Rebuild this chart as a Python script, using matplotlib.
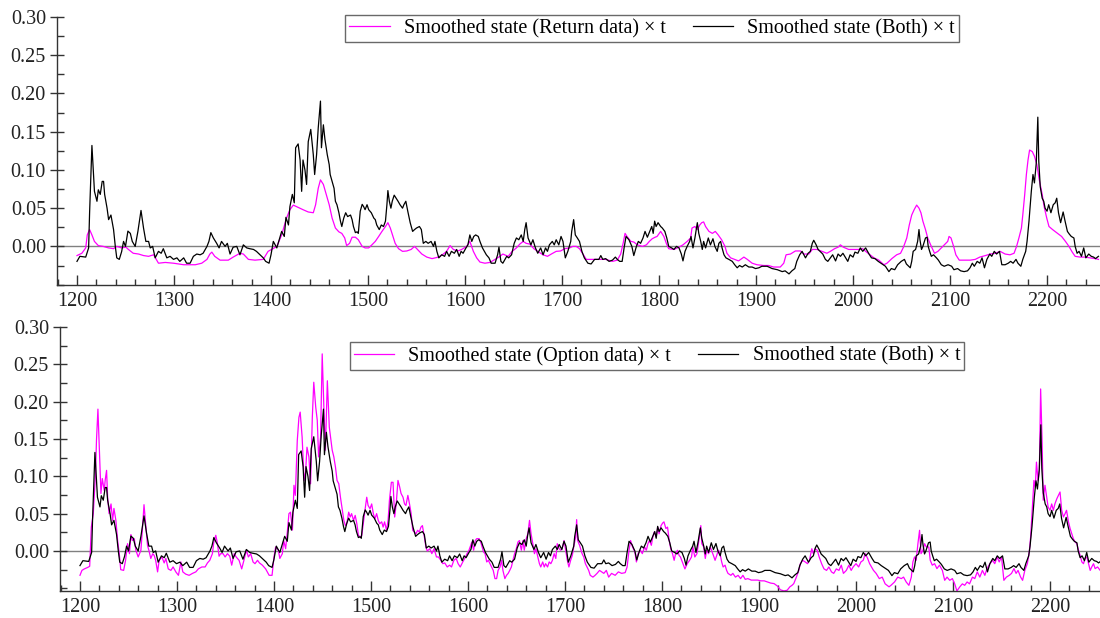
import numpy as np
import matplotlib
matplotlib.use("Agg")
import matplotlib.pyplot as plt
from matplotlib.ticker import MultipleLocator, FormatStrFormatter

plt.rcParams["font.family"] = ["Liberation Serif", "DejaVu Serif"]

# smoothed state, both data sets (same series in both panels)
both_pts = [
    (1200, -0.0196), (1203, -0.013), (1209, -0.014), (1212, -0.002), (1213, 0.044), (1215.4, 0.132),
    (1218, 0.072), (1220.6, 0.059), (1222, 0.074), (1224, 0.068), (1226, 0.085), (1227.4, 0.085),
    (1228.5, 0.068), (1231, 0.050), (1232.6, 0.035), (1235, 0.041), (1237.7, 0.022), (1239.5, 0.0),
    (1241, -0.015), (1243.6, -0.017), (1246, -0.007), (1248, 0.0065), (1250, 0.0), (1252.5, 0.020),
    (1255, 0.017), (1257, 0.0065), (1260, 0.0), (1262.8, 0.0196), (1266, 0.047), (1268.6, 0.024),
    (1271, 0.0065), (1273.8, 0.0065), (1275.5, -0.002), (1278, 0.0), (1280.6, -0.015), (1284, -0.0065),
    (1286.8, -0.009), (1289, -0.003), (1292.6, -0.015), (1296, -0.013), (1299.5, -0.017), (1303, -0.015),
    (1306, -0.0196), (1310, -0.015), (1313, -0.022), (1316.6, -0.022), (1320, -0.013), (1323.5, -0.010),
    (1327, -0.011), (1330, -0.009), (1334, 0.0), (1336, 0.0065), (1338, 0.018), (1340.6, 0.011),
    (1344, 0.004), (1346.5, -0.002), (1349, 0.0065), (1352.7, 0.0), (1355, 0.004), (1357.8, -0.010),
    (1361, -0.001), (1364.7, 0.0), (1368, -0.011), (1371.5, 0.002), (1375, -0.002), (1378, -0.003),
    (1382, -0.004), (1385, -0.0065), (1388.7, -0.011), (1392, -0.015), (1394.5, -0.0196), (1398, -0.022),
    (1400, -0.011), (1402.4, 0.0065), (1406, -0.002), (1408, 0.0065), (1411, 0.0196), (1413.7, 0.013),
    (1415.4, 0.038), (1418, 0.028), (1419.5, 0.052), (1422, 0.068), (1424, 0.057), (1425.4, 0.129),
    (1428, 0.134), (1430, 0.113), (1431.6, 0.072), (1433, 0.113), (1435, 0.100), (1436.7, 0.081),
    (1438.4, 0.137), (1441, 0.153), (1443.6, 0.120), (1445, 0.094), (1447, 0.120), (1448.7, 0.155),
    (1451, 0.190), (1452, 0.129), (1454, 0.159), (1455.6, 0.140), (1458, 0.120), (1460, 0.107),
    (1461, 0.094), (1463, 0.085), (1465, 0.076), (1466.4, 0.059), (1468, 0.0545), (1470, 0.044),
    (1471.6, 0.033), (1473, 0.026), (1475, 0.037), (1477, 0.044), (1479, 0.039), (1482, 0.041),
    (1483.6, 0.035), (1485, 0.026), (1487, 0.018), (1488.7, 0.019), (1490, 0.017), (1492, 0.046),
    (1494, 0.055), (1495.5, 0.052), (1497, 0.048), (1499, 0.0545), (1500.7, 0.048), (1503.4, 0.044),
    (1506, 0.037), (1507.5, 0.035), (1509, 0.028), (1511.6, 0.022), (1513.7, 0.028), (1516, 0.026),
    (1518, 0.033), (1519.5, 0.0545), (1520.5, 0.073), (1522, 0.059), (1523.6, 0.050), (1525, 0.059),
    (1527, 0.067), (1529, 0.063), (1531, 0.059), (1533, 0.0545), (1535.6, 0.050), (1537, 0.0545),
    (1539, 0.059), (1541, 0.046), (1543.5, 0.031), (1546, 0.0196), (1548, 0.022), (1550, 0.024),
    (1553, 0.026), (1555, 0.022), (1557, 0.004), (1559.6, 0.0065), (1562, 0.004), (1565, 0.0065),
    (1567.5, 0.0), (1569, 0.0065), (1571, -0.0065), (1573, -0.015), (1576, -0.011), (1579, -0.013),
    (1581, -0.0065), (1583.6, -0.013), (1586, -0.0065), (1589, -0.009), (1591.4, -0.004), (1594, -0.013),
    (1596, -0.0065), (1598, -0.009), (1601, -0.002), (1603, 0.002), (1605, 0.015), (1607, 0.0065),
    (1609, 0.013), (1611, 0.015), (1613.7, 0.013), (1615.4, 0.0065), (1618, -0.002), (1620, -0.0065),
    (1622, -0.011), (1624.7, -0.015), (1627, -0.022), (1631, -0.022), (1633.6, -0.011), (1635, -0.001),
    (1637, -0.0196), (1639, -0.022), (1643, -0.013), (1645, -0.015), (1648, -0.011), (1650.7, 0.004),
    (1653, 0.011), (1655.5, 0.0087), (1658, 0.015), (1660, 0.0065), (1661.6, 0.022), (1663, 0.031),
    (1665, 0.011), (1668, 0.002), (1670, 0.0087), (1672.6, -0.002), (1675, -0.009), (1678, -0.002),
    (1680.5, -0.011), (1683, -0.002), (1685, -0.0065), (1687, 0.002), (1690, 0.0065), (1692, 0.002),
    (1694, 0.0087), (1696.7, 0.002), (1699, 0.013), (1701, 0.0065), (1703.4, -0.015), (1706, -0.0065),
    (1709, 0.0065), (1710, 0.0196), (1712, 0.035), (1713.7, 0.015), (1715.8, 0.011), (1718, 0.0065),
    (1720.5, -0.0065), (1723, -0.015), (1726.7, -0.022), (1730, -0.023), (1733.6, -0.017), (1738, -0.017),
    (1740, -0.012), (1742, -0.017), (1745, -0.016), (1748.5, -0.0196), (1752, -0.018), (1755, -0.014),
    (1757, -0.017), (1759.5, -0.0196), (1762, -0.0196), (1764, -0.002), (1766, 0.013), (1769, 0.0087),
    (1772, 0.0), (1774, -0.012), (1776.7, 0.0), (1778.7, 0.0065), (1781, 0.004), (1783.5, 0.011),
    (1785.6, 0.0196), (1788, 0.012), (1790.4, 0.0196), (1792.5, 0.026), (1794, 0.017), (1795.5, 0.033),
    (1797, 0.026), (1799, 0.031), (1801.7, 0.026), (1803.4, 0.024), (1806, 0.0196), (1808, 0.011),
    (1810, 0.0), (1813, -0.002), (1815.4, -0.004), (1818, 0.0), (1820.6, -0.002), (1823, -0.010),
    (1824.7, -0.019), (1826.8, -0.0065), (1829, 0.0), (1831.6, 0.0065), (1833, 0.013), (1835, -0.002),
    (1837, 0.011), (1839.5, 0.031), (1841, 0.017), (1843, 0.0065), (1844.6, -0.004), (1846, 0.0065),
    (1848, -0.002), (1850.8, 0.011), (1853, 0.002), (1855.6, 0.010), (1857.6, 0.0), (1860, -0.0065),
    (1861.7, 0.004), (1863.5, 0.0065), (1865, -0.002), (1867, -0.011), (1869, -0.015), (1872, -0.017),
    (1875.5, -0.0196), (1878, -0.024), (1880.6, -0.028), (1883, -0.025), (1885.8, -0.027), (1889, -0.024),
    (1892.6, -0.027), (1896, -0.027), (1899.5, -0.029), (1903, -0.028), (1906, -0.026), (1911.5, -0.026),
    (1916.6, -0.029), (1922, -0.0305), (1927, -0.033), (1930, -0.032), (1934, -0.036), (1937, -0.032),
    (1940, -0.029), (1942, -0.0196), (1945, -0.011), (1947.5, -0.0065), (1951, -0.015), (1953.7, -0.009),
    (1956, -0.0065), (1958, 0.004), (1959.5, 0.008), (1962, 0.002), (1964, -0.004), (1966, -0.0065),
    (1968.8, -0.010), (1971.5, -0.017), (1974, -0.0196), (1976.6, -0.015), (1979, -0.011), (1982, -0.019),
    (1984.6, -0.010), (1987, -0.013), (1989.6, -0.009), (1992.4, -0.015), (1994.6, -0.0196), (1997, -0.011),
    (2000, -0.014), (2002, -0.0075), (2005, -0.009), (2007.5, -0.002), (2010, -0.0065), (2013, -0.002),
    (2016.5, -0.010), (2019, -0.015), (2022.6, -0.016), (2026, -0.0196), (2030, -0.023), (2033.4, -0.026),
    (2037, -0.033), (2039.5, -0.029), (2043, -0.0305), (2046, -0.024), (2049.7, -0.0196), (2053, -0.017),
    (2055, -0.023), (2059, -0.028), (2060.5, -0.0196), (2062, -0.0065), (2064.5, -0.004), (2066.6, 0.0065),
    (2068, 0.022), (2069, 0.0087), (2070.6, -0.004), (2072, 0.0), (2074.7, 0.011), (2076.4, 0.012),
    (2077.5, 0.0), (2079, -0.0065), (2080.7, -0.013), (2083, -0.011), (2086, -0.015), (2088, -0.018),
    (2091, -0.024), (2094, -0.026), (2098, -0.024), (2101.7, -0.026), (2104, -0.0305), (2107.8, -0.029),
    (2111, -0.032), (2114.5, -0.033), (2118, -0.032), (2120.6, -0.028), (2123, -0.022), (2125, -0.026),
    (2128, -0.0196), (2130.7, -0.022), (2133, -0.015), (2135.5, -0.028), (2138, -0.017), (2141, -0.010),
    (2143, -0.013), (2145.6, -0.0065), (2148, -0.010), (2151, -0.0065), (2153.4, -0.024), (2156.8, -0.024),
    (2160, -0.022), (2162.5, -0.0196), (2165, -0.022), (2168, -0.017), (2170, -0.022), (2173, -0.026),
    (2175, -0.017), (2178, -0.0065), (2179.4, 0.0065), (2181.4, 0.033), (2183.8, 0.072), (2185.5, 0.094),
    (2187, 0.083), (2188.9, 0.109), (2190.5, 0.169), (2191.5, 0.111), (2193, 0.078), (2195, 0.063),
    (2196.6, 0.059), (2198, 0.050), (2200, 0.046), (2201.7, 0.0545), (2204, 0.044), (2206.4, 0.0545),
    (2208.4, 0.057), (2210, 0.063), (2211.8, 0.044), (2214, 0.031), (2216.6, 0.045), (2218.6, 0.033),
    (2221, 0.0196), (2223, 0.016), (2225, 0.013), (2227.7, 0.011), (2229, 0.0), (2231, -0.009),
    (2233, -0.0065), (2235.5, -0.013), (2237.8, -0.002), (2240, -0.015), (2243, -0.010), (2245.6, -0.013),
    (2248, -0.014), (2250, -0.016), (2253, -0.013),
]

# smoothed state, return data only
ret_pts = [
    (1200, -0.012), (1205, -0.009), (1209, -0.002), (1210.6, 0.015), (1213, 0.022), (1215.4, 0.015),
    (1218, 0.0065), (1222, 0.001), (1227, 0.0), (1232.6, -0.002), (1237.7, -0.003), (1241, 0.0),
    (1246, -0.002), (1250.4, -0.001), (1253, -0.004), (1258, -0.009), (1263.5, -0.010), (1268.6, -0.012),
    (1273.8, -0.013), (1279, -0.011), (1284, -0.022), (1291, -0.021), (1299.5, -0.022), (1310, -0.024),
    (1322, -0.024), (1328.6, -0.022), (1334, -0.017), (1337, -0.010), (1339, -0.0075), (1342, -0.013),
    (1347.5, -0.018), (1356, -0.018), (1361, -0.014), (1368, -0.009), (1371.5, -0.010), (1376.7, -0.017),
    (1383.5, -0.018), (1392, -0.017), (1397, -0.0065), (1402, -0.003), (1406, 0.0), (1411, 0.015),
    (1416, 0.037), (1419.5, 0.048), (1423, 0.054), (1428, 0.051), (1433, 0.048), (1438.4, 0.045),
    (1443.6, 0.044), (1446, 0.0545), (1448.7, 0.076), (1451, 0.087), (1454, 0.081), (1457, 0.068),
    (1460, 0.0545), (1463, 0.037), (1466.4, 0.024), (1470, 0.019), (1473, 0.017), (1476, 0.011),
    (1478, 0.001), (1481, 0.004), (1483.6, 0.012), (1487, 0.012), (1490, 0.0087), (1494, 0.0),
    (1497, -0.002), (1500.7, -0.002), (1504, 0.002), (1507.5, 0.0065), (1511, 0.013), (1514.4, 0.0196),
    (1518, 0.026), (1520.5, 0.031), (1523, 0.024), (1525.7, 0.013), (1528, 0.004), (1531.5, -0.003),
    (1535.6, -0.0065), (1540, -0.006), (1544.5, -0.004), (1548, 0.0), (1551, -0.004), (1555.5, -0.010),
    (1560.6, -0.014), (1566, -0.016), (1572.6, -0.014), (1577.7, -0.010), (1581, -0.0065), (1584.6, 0.001),
    (1588, -0.004), (1592.5, -0.006), (1596.6, -0.004), (1601.7, 0.0), (1605, 0.0065), (1608.6, -0.0065),
    (1612, -0.015), (1615.4, -0.0205), (1620.5, -0.022), (1625.7, -0.021), (1631, -0.017), (1636, -0.013),
    (1639, -0.010), (1644.5, -0.013), (1648.6, -0.0065), (1653, -0.002), (1656.5, 0.003), (1660, 0.0065),
    (1663, 0.004), (1666.8, 0.003), (1671, -0.003), (1675, -0.0065), (1680.5, -0.011), (1685, -0.013),
    (1689, -0.010), (1694, -0.0065), (1698.6, -0.006), (1702.7, -0.003), (1707.8, -0.002), (1711, 0.0),
    (1714.7, 0.0), (1718, -0.003), (1721.6, -0.010), (1725, -0.017), (1730, -0.017), (1735, -0.017),
    (1745, -0.017), (1752, -0.0196), (1757, -0.018), (1760.5, -0.010), (1763, 0.004), (1765, 0.017),
    (1767, 0.013), (1771, 0.0065), (1774, 0.0057), (1777.7, 0.002), (1783, 0.0), (1787, 0.002),
    (1790, 0.0065), (1793, 0.010), (1796, 0.012), (1798, 0.013), (1801.7, 0.0196), (1805, 0.013),
    (1807.5, 0.004), (1810, -0.003), (1815.4, -0.004), (1820.6, -0.001), (1824.7, 0.002), (1829, 0.0065),
    (1832.6, 0.011), (1834, 0.024), (1837, 0.026), (1839.5, 0.022), (1842, 0.028), (1844, 0.031),
    (1846, 0.032), (1848, 0.026), (1851.5, 0.0196), (1855, 0.017), (1858, 0.0196), (1861, 0.015),
    (1864.5, 0.0087), (1868, 0.0), (1870, -0.009), (1873.8, -0.015), (1878, -0.017), (1882, -0.019),
    (1887.5, -0.014), (1891, -0.017), (1896, -0.022), (1901, -0.024), (1908, -0.025), (1913, -0.025),
    (1918, -0.027), (1925, -0.027), (1928.6, -0.022), (1931, -0.011), (1935.5, -0.010), (1940.6, -0.006),
    (1945.8, -0.006), (1949, -0.010), (1954.4, -0.010), (1958, -0.004), (1963, -0.004), (1968, -0.0065),
    (1973, -0.009), (1976.6, -0.0065), (1981, -0.003), (1984.6, -0.001), (1987, 0.002), (1990, -0.001),
    (1995.5, -0.004), (2000.7, -0.004), (2006, -0.004), (2010, -0.003), (2013, -0.0065), (2016.6, -0.010),
    (2021.6, -0.015), (2026.6, -0.018), (2031.8, -0.024), (2035, -0.022), (2040, -0.016), (2045, -0.011),
    (2049, -0.009), (2052, -0.001), (2055.4, 0.011), (2058, 0.028), (2060.5, 0.041), (2063, 0.048),
    (2065.6, 0.054), (2068, 0.050), (2070, 0.044), (2072, 0.033), (2074.7, 0.022), (2077, 0.011),
    (2080.7, 0.0), (2084, -0.009), (2087.5, -0.0065), (2091, -0.002), (2094, 0.002), (2097.6, 0.0065),
    (2099, 0.013), (2101, 0.011), (2103.7, 0.0), (2106, -0.011), (2109.5, -0.018), (2114.5, -0.018),
    (2121, -0.018), (2126, -0.017), (2130.7, -0.014), (2136.5, -0.012), (2141.5, -0.010), (2146.6, -0.009),
    (2151.7, -0.0065), (2156.8, -0.010), (2161.8, -0.011), (2166, -0.009), (2168.6, 0.0), (2171, 0.011),
    (2173.6, 0.024), (2175, 0.041), (2177, 0.068), (2178.7, 0.094), (2180.4, 0.113), (2182, 0.126),
    (2184.8, 0.124), (2187, 0.118), (2189.5, 0.107), (2192, 0.087), (2195, 0.068), (2197, 0.052),
    (2199.7, 0.037), (2202, 0.026), (2205.7, 0.022), (2210.8, 0.017), (2215, 0.013), (2219, 0.0065),
    (2222.6, 0.0), (2226, -0.0075), (2229, -0.013), (2234, -0.014), (2239, -0.014), (2244, -0.015),
    (2249.6, -0.016), (2253, -0.017),
]

# smoothed state, option data only
opt_pts = [
    (1200, -0.0326), (1202, -0.026), (1204.5, -0.024), (1208, -0.022), (1210, -0.0205), (1211.7, 0.032),
    (1213.7, 0.050), (1216, 0.103), (1217, 0.148), (1218.5, 0.190), (1220, 0.135), (1221.6, 0.077),
    (1223, 0.097), (1225, 0.081), (1226, 0.095), (1227.4, 0.108), (1228.5, 0.072), (1230, 0.050),
    (1232, 0.063), (1233.6, 0.041), (1235, 0.057), (1237, 0.041), (1238.8, 0.014), (1240.5, -0.0036),
    (1242, -0.025), (1245, -0.026), (1247, -0.0125), (1249, 0.0098), (1251, -0.0036), (1252.5, 0.022),
    (1254, 0.014), (1256, 0.0165), (1257.6, 0.001), (1260, -0.008), (1262.8, 0.001), (1264.5, 0.032),
    (1266, 0.062), (1268, 0.032), (1269.6, 0.0076), (1271, 0.001), (1273, -0.010), (1275, -0.0036),
    (1276.5, -0.006), (1278, -0.0125), (1280, -0.028), (1281.6, -0.0125), (1284.4, -0.008), (1286.8, -0.016),
    (1288.5, -0.010), (1291, -0.024), (1293.7, -0.026), (1296, -0.0214), (1298.8, -0.028), (1301.5, -0.0326),
    (1304, -0.0147), (1306, -0.028), (1309, -0.031), (1312.5, -0.0326), (1316, -0.030), (1319.4, -0.028),
    (1322, -0.024), (1325.6, -0.0214), (1329, -0.0214), (1331.4, -0.016), (1333.8, -0.0125), (1336.5, -0.0036),
    (1338, 0.012), (1340, 0.021), (1341.7, 0.0098), (1343.4, -0.007), (1345, -0.0036), (1347.5, -0.0036),
    (1349.6, -0.008), (1352, -0.0036), (1354.4, -0.007), (1356.4, -0.019), (1359, -0.0036), (1361, -0.008),
    (1364, -0.0125), (1366.7, -0.024), (1369, -0.0125), (1371.5, 0.001), (1373.6, -0.008), (1376, -0.0036),
    (1378.4, -0.0147), (1380.4, -0.017), (1383, -0.0125), (1385, -0.016), (1388, -0.019), (1391.4, -0.024),
    (1395, -0.0326), (1398, -0.0326), (1400, -0.008), (1401.7, 0.0054), (1404.5, 0.001), (1406, -0.010),
    (1408.6, -0.0036), (1410, 0.014), (1412, 0.003), (1413.7, 0.025), (1415.4, 0.050), (1417, 0.052),
    (1419, 0.028), (1420.6, 0.088), (1422, 0.0745), (1424, 0.148), (1425.7, 0.179), (1427, 0.186),
    (1429, 0.1525), (1431, 0.0945), (1432.6, 0.106), (1434, 0.139), (1436, 0.126), (1437.7, 0.090),
    (1439.5, 0.179), (1441, 0.226), (1443, 0.193), (1444.6, 0.175), (1446, 0.126), (1448, 0.1525),
    (1449.7, 0.264), (1451.5, 0.188), (1453, 0.135), (1455, 0.228), (1457, 0.166), (1460, 0.135),
    (1461.7, 0.126), (1463.4, 0.112), (1465, 0.0945), (1466.8, 0.090), (1468.5, 0.072), (1470, 0.059),
    (1472, 0.041), (1473.6, 0.034), (1475, 0.0366), (1477, 0.052), (1478.6, 0.0455), (1480, 0.050),
    (1482, 0.041), (1483.7, 0.0477), (1485.4, 0.0366), (1487, 0.021), (1488.8, 0.0187), (1490.5, 0.021),
    (1492, 0.0366), (1494, 0.0566), (1495.6, 0.072), (1497, 0.061), (1499, 0.0566), (1500.7, 0.063),
    (1502.4, 0.050), (1504, 0.043), (1505.8, 0.050), (1507.5, 0.041), (1509, 0.0366), (1511, 0.039),
    (1512.5, 0.032), (1514, 0.039), (1516, 0.0277), (1517.6, 0.041), (1519, 0.068), (1521, 0.092),
    (1522.7, 0.092), (1524.4, 0.0455), (1526, 0.063), (1527.8, 0.0945), (1529.5, 0.086), (1531, 0.077),
    (1533, 0.072), (1534.6, 0.063), (1536, 0.061), (1538, 0.0745), (1539.7, 0.063), (1541.4, 0.050),
    (1543, 0.0277), (1544.7, 0.0254), (1546.4, 0.023), (1548, 0.0277), (1549.8, 0.0254), (1551.5, 0.032),
    (1553, 0.034), (1555, 0.0187), (1556.6, 0.0054), (1558, 0.0), (1560.7, 0.003), (1562.7, -0.0036),
    (1565, 0.003), (1567.5, -0.008), (1569.5, -0.008), (1572, -0.0125), (1574, -0.017), (1576, -0.016),
    (1578.6, -0.0214), (1581, -0.019), (1583, -0.0214), (1585.4, -0.0125), (1587.8, -0.010), (1589.8, -0.017),
    (1592, -0.0214), (1594.6, -0.0147), (1596.6, -0.010), (1599, -0.0036), (1601, 0.001), (1604, 0.012),
    (1605.8, 0.001), (1607.5, 0.014), (1609, 0.0165), (1611.5, 0.0165), (1613.6, 0.0098), (1616, -0.0013),
    (1617.6, -0.0036), (1619.3, -0.0147), (1621, -0.0125), (1622.7, -0.017), (1624.4, -0.0214), (1626, -0.026),
    (1627.8, -0.037), (1629.5, -0.037), (1631, -0.026), (1633, -0.0214), (1634.6, -0.0125), (1636, -0.026),
    (1638, -0.037), (1639.7, -0.0326), (1641.4, -0.030), (1643, -0.026), (1644.7, -0.0214), (1646.4, -0.0125),
    (1648, -0.0036), (1649.8, 0.003), (1651.5, 0.012), (1653, 0.014), (1655, 0.001), (1656.6, 0.014),
    (1658, 0.001), (1660, 0.0165), (1661.7, 0.023), (1663.4, 0.041), (1665, 0.023), (1666.8, 0.0098),
    (1668.5, -0.0036), (1670, 0.003), (1672, -0.008), (1673.6, -0.017), (1675, -0.0214), (1677, -0.0147),
    (1678.6, -0.0214), (1680, -0.017), (1682, -0.0214), (1683.7, -0.0147), (1685.4, -0.017), (1687, -0.0125),
    (1688.8, -0.0036), (1690.5, -0.010), (1692, 0.0098), (1694, 0.003), (1695.6, 0.001), (1697, 0.003),
    (1699, 0.014), (1700.7, 0.001), (1702.4, -0.0125), (1704, -0.0214), (1705.8, -0.0125), (1707.5, -0.006),
    (1709, 0.0054), (1711, 0.0187), (1712, 0.042), (1713, 0.014), (1715, 0.0076), (1717.6, -0.0036),
    (1719.3, -0.008), (1721, -0.017), (1722.7, -0.0214), (1724.4, -0.026), (1726, -0.0326), (1728.8, -0.035),
    (1731, -0.0326), (1733, -0.030), (1735.6, -0.026), (1740, -0.030), (1742.6, -0.026), (1745, -0.035),
    (1748, -0.030), (1751.7, -0.0326), (1755, -0.028), (1758.4, -0.030), (1762, -0.029), (1764, -0.0214),
    (1766, 0.001), (1767.6, 0.014), (1769.6, 0.0054), (1772, -0.0013), (1773.6, -0.0147), (1775.3, -0.0036),
    (1777.7, 0.001), (1779.7, -0.0036), (1782, 0.0054), (1783.8, 0.001), (1785.5, 0.0098), (1787, 0.014),
    (1789, 0.0076), (1790.5, 0.0187), (1792, 0.0254), (1794, 0.0187), (1795.6, 0.032), (1797, 0.023),
    (1799, 0.034), (1800.7, 0.0375), (1802, 0.039), (1804, 0.030), (1805.7, 0.032), (1807.4, 0.014),
    (1809, 0.003), (1810.8, -0.0036), (1812.5, -0.0125), (1814, -0.0036), (1816, 0.001), (1817.6, -0.006),
    (1819, -0.008), (1821.6, -0.017), (1823.6, -0.024), (1826, -0.017), (1828.4, -0.0125), (1830.4, -0.008),
    (1831.8, 0.0054), (1833.8, -0.008), (1836, -0.0036), (1838.5, 0.0187), (1840, 0.034), (1841, 0.0098),
    (1843, 0.0054), (1844.6, -0.010), (1846, 0.001), (1848, -0.0036), (1849.7, 0.0054), (1851, 0.001),
    (1853, -0.006), (1854.7, -0.0125), (1856.4, -0.006), (1858, 0.001), (1859.8, -0.0036), (1861.5, -0.0147),
    (1863, -0.0214), (1865, -0.019), (1866.6, -0.026), (1868, -0.030), (1871, -0.0326), (1873, -0.030),
    (1875.7, -0.035), (1878.4, -0.0326), (1881, -0.037), (1883.4, -0.0326), (1885.8, -0.038), (1888.5, -0.037),
    (1892, -0.039), (1895, -0.039), (1898.6, -0.039), (1902, -0.040), (1905.4, -0.040), (1908.8, -0.0415),
    (1912, -0.043), (1915.5, -0.0437), (1919, -0.047), (1922, -0.052), (1925.7, -0.0535), (1929, -0.0526),
    (1931.8, -0.048), (1934, -0.046), (1935.8, -0.0437), (1938.5, -0.035), (1941, -0.026), (1942.6, -0.017),
    (1945, -0.0125), (1947.6, -0.0147), (1950, -0.017), (1952, -0.0125), (1954.4, 0.003), (1956, -0.0036),
    (1957.8, 0.003), (1960, 0.001), (1962, -0.008), (1964.5, -0.017), (1967, -0.024), (1969.6, -0.026),
    (1972, -0.0214), (1974.7, -0.028), (1977, -0.030), (1979.7, -0.024), (1982.4, -0.026), (1984.8, -0.019),
    (1987, -0.030), (1990, -0.026), (1992.6, -0.019), (1995, -0.026), (1997, -0.0214), (2000, -0.017),
    (2002.7, -0.0214), (2005, -0.0147), (2007.4, -0.0125), (2009.5, -0.0036), (2012, -0.010), (2014, -0.017),
    (2018, -0.026), (2020.7, -0.030), (2024, -0.037), (2027, -0.035), (2030, -0.044), (2034, -0.048),
    (2036, -0.046), (2039.7, -0.0415), (2043, -0.035), (2046.6, -0.037), (2049, -0.035), (2051.7, -0.0415),
    (2054.5, -0.046), (2057, -0.035), (2058.6, -0.0147), (2060.3, -0.008), (2062, -0.0125), (2063.8, 0.0098),
    (2065.5, 0.0277), (2067, -0.0036), (2069, 0.001), (2070.7, 0.0098), (2072.4, 0.0054), (2075, 0.0054),
    (2076.5, -0.0125), (2078.6, -0.019), (2081, -0.017), (2083.4, -0.0236), (2086, -0.019), (2089, -0.026),
    (2091.4, -0.0393), (2093.8, -0.035), (2096.6, -0.0393), (2099.3, -0.037), (2101.7, -0.044), (2104, -0.0535),
    (2107, -0.048), (2109.6, -0.044), (2112, -0.046), (2114.5, -0.0415), (2117, -0.044), (2120, -0.035),
    (2122.4, -0.037), (2125, -0.028), (2127.6, -0.035), (2130.3, -0.026), (2132.8, -0.0326), (2135, -0.0236),
    (2138, -0.017), (2140.7, -0.0125), (2143, -0.017), (2145.5, -0.008), (2147.6, -0.0147), (2150, -0.008),
    (2152.4, -0.0393), (2155, -0.035), (2158, -0.0326), (2160.3, -0.030), (2162.8, -0.0236), (2165, -0.030),
    (2167, -0.026), (2169.7, -0.035), (2171.7, -0.0393), (2174, -0.026), (2176.6, -0.017), (2178.6, -0.0013),
    (2180, 0.0187), (2182, 0.063), (2183.4, 0.0945), (2184.8, 0.0856), (2186, 0.119), (2187.6, 0.0945),
    (2189, 0.108), (2190.3, 0.217), (2191.7, 0.1525), (2193, 0.068), (2194.8, 0.088), (2196.6, 0.072),
    (2198, 0.059), (2200, 0.0545), (2201.7, 0.063), (2203.4, 0.0545), (2205, 0.063), (2207, 0.070),
    (2208.6, 0.0745), (2210.3, 0.079), (2212, 0.0545), (2213.8, 0.0455), (2215.5, 0.050), (2217, 0.0545),
    (2219, 0.039), (2220.7, 0.030), (2222.4, 0.023), (2224, 0.0165), (2225.9, 0.012), (2227.6, 0.0098),
    (2229.3, 0.001), (2231, -0.0058), (2232.8, -0.0147), (2234.5, -0.017), (2236, -0.010), (2238, -0.008),
    (2239.7, -0.017), (2241.4, -0.026), (2243, -0.0214), (2244.8, -0.017), (2246.5, -0.0236), (2249, -0.0214),
    (2251.7, -0.026),
]

both_t, both_v = zip(*both_pts)
ret_t, ret_v = zip(*ret_pts)
opt_t, opt_v = zip(*opt_pts)

label_ret = "Smoothed state (Return data) × t"
label_opt = "Smoothed state (Option data) × t"
label_both = "Smoothed state (Both) × t"

MAGENTA = "#ff00ff"
W, H = 1100, 618

fig = plt.figure(figsize=(11, 6.18), dpi=100)
ax1 = fig.add_axes([57 / W, 1 - 285 / H, (W - 57) / W, (285 - 17) / H])
ax2 = fig.add_axes([60 / W, 1 - 591 / H, (W - 60) / W, (591 - 327) / H])


def style_axis(ax, ylo, xlo, xhi):
    ax.set_ylim(ylo, 0.30)
    ax.set_xlim(xlo, xhi)
    ax.axhline(0, color="#808080", lw=1.0, zorder=1)
    for s in ["top", "right"]:
        ax.spines[s].set_visible(False)
    for s in ["left", "bottom"]:
        ax.spines[s].set_linewidth(1.0)
        ax.spines[s].set_color("#333333")
    ax.xaxis.set_major_locator(MultipleLocator(100))
    ax.xaxis.set_minor_locator(MultipleLocator(20))
    ax.yaxis.set_minor_locator(MultipleLocator(0.025))
    ax.set_yticks([0.0, 0.05, 0.10, 0.15, 0.20, 0.25, 0.30])
    ax.yaxis.set_major_formatter(FormatStrFormatter("%.2f"))
    ax.tick_params(axis="x", which="major", direction="in", length=7, width=1, pad=5,
                   labelsize=14.5, colors="#333333", labelcolor="#222222")
    ax.tick_params(axis="x", which="minor", direction="in", length=4, width=1, colors="#333333")
    ax.tick_params(axis="y", which="major", direction="inout", length=10, width=1, pad=3,
                   labelsize=14.5, colors="#333333", labelcolor="#222222")
    ax.tick_params(axis="y", which="minor", direction="in", length=5, width=1, colors="#333333")


# top: return data vs both
ax1.plot(ret_t, ret_v, color=MAGENTA, lw=0.9, label=label_ret, zorder=2)
ax1.plot(both_t, both_v, color="black", lw=0.9, label=label_both, zorder=3)
style_axis(ax1, -0.0505, 1179.4, 2254.6)

# bottom: option data vs both
ax2.plot(opt_t, opt_v, color=MAGENTA, lw=0.9, label=label_opt, zorder=2)
ax2.plot(both_t, both_v, color="black", lw=0.9, label=label_both, zorder=3)
style_axis(ax2, -0.0536, 1179.4, 2251.5)

for ax, cx, top in [(ax1, 652, 15), (ax2, 657, 342)]:
    leg = ax.legend(loc="upper center", bbox_to_anchor=(cx / W, 1 - top / H),
                    bbox_transform=fig.transFigure, ncol=2, frameon=True, fancybox=False,
                    edgecolor="#444444", fontsize=14.5, handlelength=2.0, handletextpad=0.7,
                    columnspacing=1.35, borderpad=0.2, borderaxespad=0)
    leg.get_frame().set_linewidth(1.0)

fig.savefig("out.png", dpi=100)
